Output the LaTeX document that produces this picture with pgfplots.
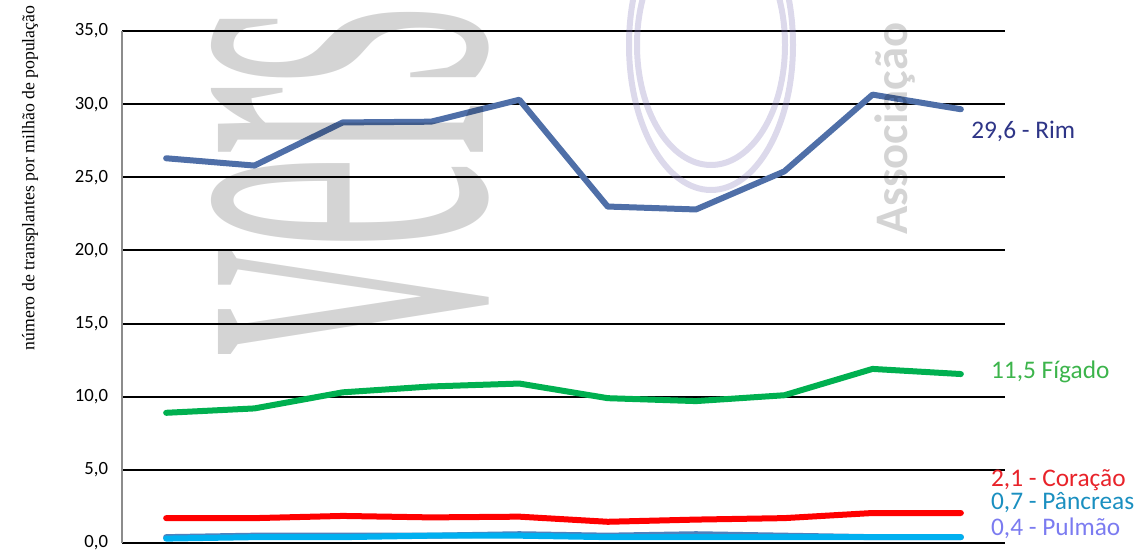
\documentclass[border=0pt]{standalone}
\usepackage{pgfplots}
\pgfplotsset{compat=1.18}
\usepackage{fontspec}
\setmainfont{Carlito}
\newfontfamily\serifcam{Liberation Serif}
\definecolor{rimline}{RGB}{79,111,168}
\definecolor{rimlbl}{RGB}{46,53,135}
\definecolor{figline}{RGB}{0,176,80}
\definecolor{figlbl}{RGB}{60,180,75}
\definecolor{corline}{RGB}{255,0,0}
\definecolor{corlbl}{RGB}{232,35,42}
\definecolor{panline}{RGB}{0,176,240}
\definecolor{panlbl}{RGB}{26,143,192}
\definecolor{pulline}{RGB}{79,129,189}
\definecolor{pullbl}{RGB}{123,123,240}
\definecolor{wmcirc}{RGB}{140,128,190}
\begin{document}
\begin{tikzpicture}
\begin{axis}[name=ax, scale only axis, width=662.25pt, height=384pt,
 xmin=-0.5, xmax=9.5, ymin=0, ymax=35,
 axis x line*=bottom, axis y line*=left,
 x axis line style={black, line width=1.5pt, -},
 y axis line style={black!45, line width=1pt, -},
 xtick=\empty,
 ytick={0,5,...,35},
 major tick length=0pt,
 ymajorgrids, grid style={black, line width=1.5pt},
 /pgf/number format/assume math mode=true,
 yticklabel={\pgfmathprintnumber[fixed,fixed zerofill,precision=1,use comma]{\tick}},
 yticklabel style={font=\fontsize{14}{16}\selectfont, text=black, xshift=-7pt},
 clip=false,
 every axis plot/.append style={line width=4.5pt, line join=round, line cap=round, no markers},
]
% Pulmão
\addplot[pulline] coordinates {(0,0.4) (1,0.5) (2,0.5) (3,0.5) (4,0.6) (5,0.5) (6,0.6) (7,0.5) (8,0.4) (9,0.4)};
% Pâncreas
\addplot[panline] coordinates {(0,0.3) (1,0.4) (2,0.4) (3,0.5) (4,0.5) (5,0.4) (6,0.4) (7,0.4) (8,0.4) (9,0.4)};
% Coração
\addplot[corline] coordinates {(0,1.7) (1,1.7) (2,1.85) (3,1.75) (4,1.8) (5,1.45) (6,1.6) (7,1.7) (8,2.05) (9,2.05)};
% Fígado
\addplot[figline] coordinates {(0,8.9) (1,9.2) (2,10.3) (3,10.7) (4,10.9) (5,9.9) (6,9.7) (7,10.1) (8,11.9) (9,11.55)};
% Rim
\addplot[rimline] coordinates {(0,26.3) (1,25.8) (2,28.75) (3,28.8) (4,30.3) (5,23.0) (6,22.8) (7,25.4) (8,30.65) (9,29.65)};

\node[anchor=west, inner sep=0, text=rimlbl, font=\fontsize{19}{22}\selectfont] at (axis cs:9.115,28.16) {29,6 - Rim};
\node[anchor=west, inner sep=0, text=figlbl, font=\fontsize{19}{22}\selectfont] at (axis cs:9.34,11.69) {11,5 Fígado};
\node[anchor=west, inner sep=0, text=corlbl, font=\fontsize{19}{22}\selectfont] at (axis cs:9.34,4.31) {2,1 - Coração};
\node[anchor=west, inner sep=0, text=panlbl, font=\fontsize{19}{22}\selectfont] at (axis cs:9.34,2.73) {0,7 - Pâncreas};
\node[anchor=west, inner sep=0, text=pullbl, font=\fontsize{19}{22}\selectfont] at (axis cs:9.34,1.03) {0,4 - Pulmão};
\end{axis}
\begin{scope}[shift={(ax.south west)}, shift={(-91.5pt,407.25pt)}, x=0.75pt, y=-0.75pt]
 \node[rotate=90, anchor=base west, inner sep=0, font=\serifcam\fontsize{157.5}{160}\selectfont, yscale=2.75, text=black, opacity=0.17] at (483,355) {vers};
 \draw[wmcirc, opacity=0.3, line width=4.5pt] (711,45) ellipse [x radius=82, y radius=145];
 \draw[wmcirc, opacity=0.3, line width=4.5pt] (711,45) ellipse [x radius=74, y radius=120];
 \node[rotate=90, anchor=base west, inner sep=0, font=\bfseries\fontsize{35}{37}\selectfont, text=black, opacity=0.17] at (907,235) {Associação};
 \node[rotate=90, font=\serifcam\fontsize{13.3}{15}\selectfont] at (30,178) {número de transplantes por milhão de população};
\end{scope}
\pgfresetboundingbox
\begin{scope}[shift={(ax.south west)}, shift={(-91.5pt,407.25pt)}, x=0.75pt, y=-0.75pt]
 \path[use as bounding box] (0,0) rectangle (1145,553);
\end{scope}
\end{tikzpicture}
\end{document}
